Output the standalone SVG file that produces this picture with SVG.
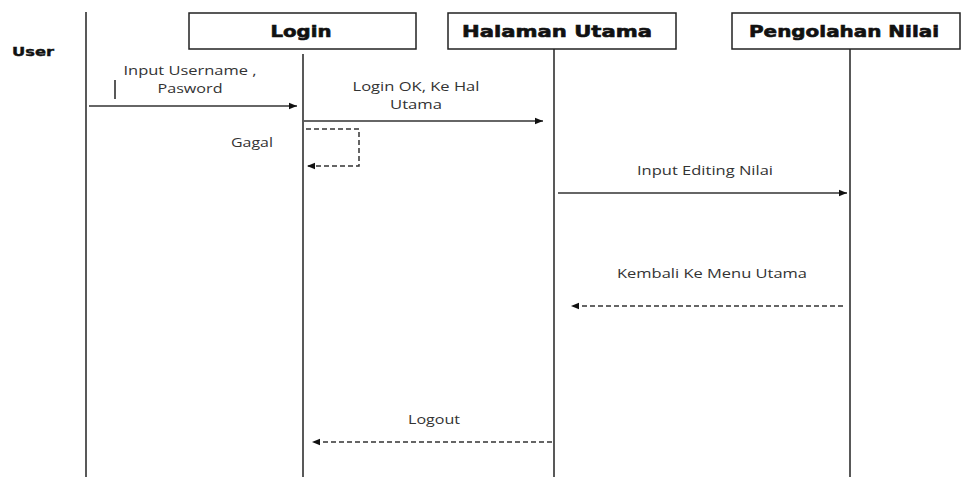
<svg xmlns="http://www.w3.org/2000/svg" width="961" height="477" viewBox="0 0 961 477">
  <style>
    .box { fill: #fff; stroke: #222; stroke-width: 1.5; }
    .title { font-family: "DejaVu Sans", "Liberation Sans", sans-serif; font-weight: bold; font-size: 16px; fill: #111; stroke: #111; stroke-width: 0.6; text-anchor: middle; }
    .life { stroke: #222; stroke-width: 1.5; fill: none; }
    .lbl { font-family: "Open Sans", "Liberation Sans", sans-serif; font-size: 13.5px; fill: #333; text-anchor: middle; }
    .msg { stroke: #333; stroke-width: 1.5; fill: none; }
    .dash { stroke: #333; stroke-width: 1.5; fill: none; stroke-dasharray: 5 3; }
  </style>
  <defs>
    <marker id="arr" viewBox="0 0 10 10" refX="10" refY="5" markerWidth="8" markerHeight="8" markerUnits="userSpaceOnUse" orient="auto">
      <path d="M0,1 L10,5 L0,9 Z" fill="#111"/>
    </marker>
  </defs>
  <rect width="961" height="477" fill="#fff"/>

  <!-- actor -->
  <g id="user">
    <text x="12" y="56" font-family="DejaVu Sans, Liberation Sans, sans-serif" font-weight="bold" font-size="13" fill="#111" stroke="#111" stroke-width="0.4" textLength="42" lengthAdjust="spacingAndGlyphs">User</text>
    <line class="life" x1="86" y1="12" x2="86" y2="477"/>
  </g>

  <g id="login">
    <rect class="box" x="189" y="13" width="227" height="36"/>
    <text class="title" x="301" y="37" textLength="61" lengthAdjust="spacingAndGlyphs">Login</text>
    <line class="life" x1="303" y1="54" x2="303" y2="477"/>
  </g>

  <g id="halaman-utama">
    <rect class="box" x="448" y="13" width="228" height="36"/>
    <text class="title" x="557" y="37" textLength="190" lengthAdjust="spacingAndGlyphs">Halaman Utama</text>
    <line class="life" x1="554" y1="49" x2="554" y2="477"/>
  </g>

  <g id="pengolahan-nilai">
    <rect class="box" x="732" y="13" width="228" height="36"/>
    <text class="title" x="844" y="37" textLength="190" lengthAdjust="spacingAndGlyphs">Pengolahan Nilai</text>
    <line class="life" x1="850" y1="49" x2="850" y2="477"/>
  </g>

  <g id="connectors">
    <!-- input username, password -->
    <line class="life" x1="115" y1="80" x2="115" y2="99"/>
    <line class="msg" x1="89" y1="106" x2="297" y2="106" marker-end="url(#arr)"/>
    <text class="lbl" x="190" y="75" textLength="133" lengthAdjust="spacingAndGlyphs">Input Username ,</text>
    <text class="lbl" x="190" y="93" textLength="65" lengthAdjust="spacingAndGlyphs">Pasword</text>

    <!-- login ok -->
    <line class="msg" x1="304" y1="121" x2="543" y2="121" marker-end="url(#arr)"/>
    <text class="lbl" x="416" y="91" textLength="127" lengthAdjust="spacingAndGlyphs">Login OK, Ke Hal</text>
    <text class="lbl" x="416" y="109" textLength="52" lengthAdjust="spacingAndGlyphs">Utama</text>

    <!-- gagal self call -->
    <path class="dash" d="M306,129 H359 V166 H307" marker-end="url(#arr)"/>
    <text class="lbl" x="252" y="147" textLength="42" lengthAdjust="spacingAndGlyphs">Gagal</text>

    <!-- input editing nilai -->
    <line class="msg" x1="558" y1="193" x2="847" y2="193" marker-end="url(#arr)"/>
    <text class="lbl" x="705" y="175" textLength="136" lengthAdjust="spacingAndGlyphs">Input Editing Nilai</text>

    <!-- kembali ke menu utama -->
    <line class="dash" x1="843" y1="306" x2="571" y2="306" marker-end="url(#arr)"/>
    <text class="lbl" x="712" y="278" textLength="190" lengthAdjust="spacingAndGlyphs">Kembali Ke Menu Utama</text>

    <!-- logout -->
    <line class="dash" x1="552" y1="442" x2="312" y2="442" marker-end="url(#arr)"/>
    <text class="lbl" x="434" y="424" textLength="52" lengthAdjust="spacingAndGlyphs">Logout</text>
  </g>
</svg>
